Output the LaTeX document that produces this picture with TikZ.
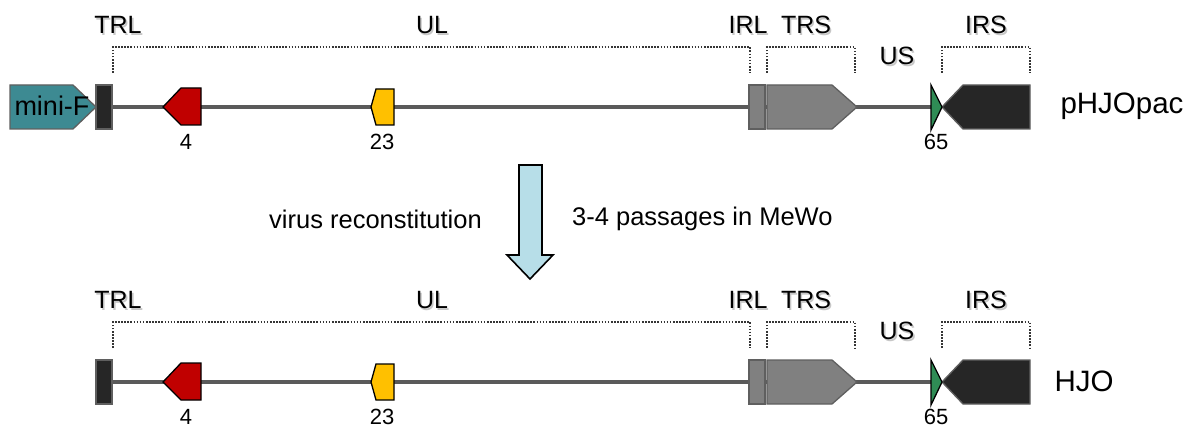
\documentclass[tikz,border=0pt]{standalone}
\usepackage{fontspec}
\setmainfont{Liberation Sans}
\definecolor{backbone}{HTML}{5A5A5A}
\definecolor{edgegray}{HTML}{5F5F5F}
\definecolor{darkseg}{HTML}{262626}
\definecolor{midseg}{HTML}{808080}
\definecolor{minif}{HTML}{3D8A92}
\definecolor{gfour}{HTML}{C00000}
\definecolor{gtwenty}{HTML}{FFC000}
\definecolor{gsixty}{HTML}{2F8C55}
\definecolor{arrowfill}{HTML}{B7DEE8}
\definecolor{bracketcol}{HTML}{353535}

\tikzset{
  region/.style={font=\fontsize{25}{30}\selectfont, inner sep=0pt},
  genelabel/.style={font=\fontsize{22}{26}\selectfont, inner sep=0pt},
  caption/.style={font=\fontsize{25.5}{30}\selectfont, inner sep=0pt},
  strainlabel/.style={font=\fontsize{29.5}{34}\selectfont, inner sep=0pt},
  bracketline/.style={draw=bracketcol, line width=2pt, dash pattern=on 1.6pt off 1.5pt},
  segment/.style={draw=edgegray, line width=1.3pt},
  gene/.style={draw=black, line width=1.3pt},
  backboneline/.style={draw=backbone, line width=4.5pt}
}

% region label with a soft drop shadow
\newcommand\regionlabel[3]{%
  \path (#2) ++(1.6,1.6) node[region, text=black!22] {#3};
  \node[region] (#1) at (#2) {#3};}

% one genome map; #1 is a suffix for the names, #2 the vertical shift
\newcommand\genomemap[2]{%
\begin{scope}[yshift=#2]
  % repeat region brackets
  \draw[bracketline] (113,73) |- (750,47) -- (750,73);
  \draw[bracketline] (767,73) |- (855,47) -- (855,73);
  \draw[bracketline] (942,73) |- (1030,47) -- (1030,73);
  \regionlabel{trl#1}{118,25}{TRL}
  \regionlabel{ul#1}{432,25}{UL}
  \regionlabel{irl#1}{748,25}{IRL}
  \regionlabel{trs#1}{806,25}{TRS}
  \regionlabel{us#1}{897,56}{US}
  \regionlabel{irs#1}{986,25}{IRS}
  % backbone
  \coordinate (bbl#1) at (112,107);
  \coordinate (bbr#1) at (942,107);
  \draw[backboneline] (bbl#1) -- (bbr#1);
  % terminal and internal repeat blocks
  \draw[segment, fill=darkseg] (96,85) rectangle (112,129);
  \draw[segment, fill=midseg] (749,85) rectangle (765,129);
  \draw[segment, fill=midseg] (767,85) -- (832,85) -- (857,107) -- (832,129) -- (767,129) -- cycle;
  \draw[segment, fill=darkseg] (942,107) -- (963,85) -- (1030,85) -- (1030,129) -- (963,129) -- cycle;
  % genes
  \draw[gene, fill=gfour] (163,107) -- (181,88) -- (201,88) -- (201,125) -- (181,125) -- cycle;
  \draw[gene, fill=gtwenty] (371,107) -- (376,89) -- (394,89) -- (394,125) -- (376,125) -- cycle;
  \draw[gene, fill=gsixty] (931,85) -- (942,107) -- (931,130) -- cycle;
  \node[genelabel] (g4#1) at (186,142) {4};
  \node[genelabel] (g23#1) at (382,142) {23};
  \node[genelabel] (g65#1) at (936,142) {65};
\end{scope}}

\begin{document}
\begin{tikzpicture}[x=1pt, y=-1pt]
  \useasboundingbox (0,0) rectangle (1198,430);

  % BAC construct
  \genomemap{a}{0pt}
  \draw[segment, fill=minif] (10,85) -- (73,85) -- (96,107) -- (73,129) -- (10,129) -- cycle;
  \node[font=\fontsize{27}{32}\selectfont, inner sep=0pt] (minif) at (52,106) {mini-F};
  \node[strainlabel] (phjo) at (1122,106) {pHJOpac};

  % reconstitution step
  \draw[draw=black, line width=1.6pt, fill=arrowfill, line join=miter]
    (519,165) -- (542,165) -- (542,255) -- (553,255) -- (530,279) -- (507,255) -- (519,255) -- cycle;
  \node[caption, anchor=east] (recon) at (482,219) {virus reconstitution};
  \node[caption, anchor=west] (passage) at (572,219) {3-4 passages in MeWo};

  % reconstituted virus
  \genomemap{b}{-275pt}
  \node[strainlabel] (hjo) at (1084,381) {HJO};
\end{tikzpicture}
\end{document}
